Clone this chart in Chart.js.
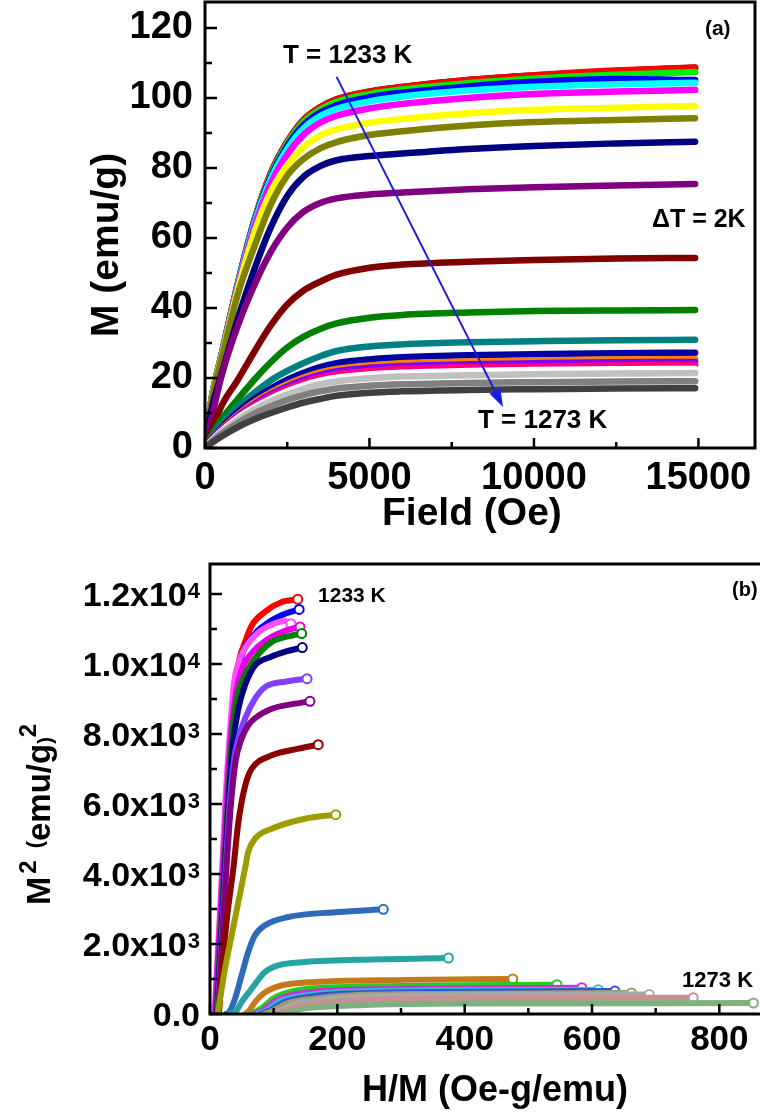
<!DOCTYPE html>
<html>
<head>
<meta charset="utf-8">
<script src="https://cdn.jsdelivr.net/npm/chart.js@4.4.0/dist/chart.umd.min.js"></script>
<style>
  html, body { margin: 0; padding: 0; background: #fff; overflow: hidden; width: 760px; height: 1113px; }
  #boxA { position: absolute; left: 0; top: 0; }
  #boxB { position: absolute; left: 0; top: 545px; }
</style>
</head>
<body>
<div id="boxA"><canvas id="chartA" width="760" height="545"></canvas></div>
<div id="boxB"><canvas id="chartB" width="800" height="568"></canvas></div>
<script>
// ---- panel (a): M vs field, 1233 K .. 1273 K, dT = 2 K
const tempsK = [1233, 1235, 1237, 1239, 1241, 1243, 1245, 1247, 1249, 1251, 1253,
                1255, 1257, 1259, 1261, 1263, 1265, 1267, 1269, 1271, 1273];
const fieldOe = [0, 200, 500, 1000, 1500, 2000, 2500, 3000, 3500, 4000, 5000, 6000, 8000, 10000, 12500, 14900];
const magEmuG = [
  [0, 14, 26.5, 47, 65, 78.5, 87.5, 93.8, 97.3, 99.6, 101.8, 103.1, 105.1, 106.4, 107.7, 108.6],
  [0, 14, 26.5, 47, 65, 78.4, 87.4, 93.7, 97.3, 99.5, 101.8, 103.1, 105.1, 106.5, 107.8, 108.7],
  [0, 14, 26.5, 47, 64.8, 78, 87, 93.2, 96.7, 98.9, 101.1, 102.4, 104.2, 105.5, 106.6, 107.4],
  [0, 14, 26.4, 46.8, 64.5, 77.5, 86.3, 92.3, 95.8, 97.9, 100.2, 101.5, 103.3, 104.6, 105.4, 105.1],
  [0, 14, 26.3, 46.5, 64, 76.8, 85.4, 91.3, 94.8, 96.9, 99, 100.4, 102.1, 103.2, 103.9, 104.3],
  [0, 13.8, 26, 46, 63, 75.5, 83.8, 89.5, 92.9, 94.9, 97, 98.3, 100, 101.1, 101.8, 102.3],
  [0, 13.6, 25.7, 45.3, 61.5, 73.2, 80.8, 86, 89.2, 91, 92.9, 94, 95.6, 96.6, 97.2, 97.7],
  [0, 13.4, 25.3, 44, 57.5, 69.5, 77.8, 82.6, 85.6, 87.4, 89.4, 90.5, 92.1, 93.1, 93.7, 94.2],
  [0, 11, 21, 37, 51, 63, 72, 77.5, 80.5, 82.2, 83.4, 84.1, 85.4, 86.3, 87, 87.5],
  [0, 8.5, 20.5, 35, 46.5, 56, 63, 67.5, 70, 71.3, 72.4, 73, 73.9, 74.5, 75, 75.4],
  [0, 5, 12, 19.5, 27.5, 35, 41, 45, 47.5, 49.5, 51.5, 52.4, 53.2, 53.7, 54.1, 54.3],
  [0, 3.5, 8.2, 14, 19.5, 24.5, 28.7, 31.8, 34, 35.6, 37.2, 38, 38.7, 39.1, 39.3, 39.4],
  [0, 3, 6.6, 11.8, 15.8, 19.3, 22, 24.3, 26.2, 27.7, 29, 29.6, 30.2, 30.5, 30.8, 30.9],
  [0, 2.6, 5.8, 10.3, 14, 17, 19.5, 21.5, 23.1, 24.2, 25.3, 25.9, 26.5, 26.8, 27.1, 27.2],
  [0, 2.4, 5.4, 9.6, 13.1, 15.9, 18.2, 20.1, 21.6, 22.6, 23.6, 24.2, 24.7, 25, 25.3, 25.4],
  [0, 2.3, 5.2, 9.3, 12.6, 15.4, 17.6, 19.5, 20.9, 21.9, 22.9, 23.4, 23.9, 24.2, 24.5, 24.6],
  [0, 2.2, 5, 9, 12.2, 14.8, 17, 18.7, 20.1, 21.1, 22, 22.6, 23.1, 23.3, 23.6, 23.7],
  [0, 2.1, 4.8, 8.6, 11.6, 14.1, 16.2, 17.9, 19.2, 20.1, 21, 21.5, 22, 22.3, 22.5, 22.6],
  [0, 2, 4.5, 8.1, 11, 13.4, 15.3, 16.9, 18.2, 19, 19.9, 20.4, 20.8, 21.1, 21.3, 21.4],
  [0, 1.8, 4, 7.2, 9.8, 11.9, 13.7, 15.1, 16.2, 17, 17.8, 18.2, 18.6, 18.8, 19, 19.1],
  [0, 1.4, 3.3, 6, 8.2, 10, 11.6, 13, 14, 14.9, 15.8, 16.2, 16.6, 16.8, 17, 17.1]
];
const colorsA = ['#000000', '#ff0000', '#00ee00', '#0000ff', '#00ffff', '#ff00ff', '#ffff00', '#808000',
                 '#000080', '#800080', '#800000', '#008000', '#008080', '#0000a0', '#ff8000', '#8000ff',
                 '#ff0080', '#ffffff', '#c0c0c0', '#808080', '#404040'];
const ticksA_x = [0, 5000, 10000, 15000];
const ticksA_y = [0, 20, 40, 60, 80, 100, 120];

// ---- panel (b): Arrott plot, M^2 vs H/M
const arrottHM = [
  [8, 17, 25, 32, 40, 47, 55, 65.5, 86.4, 112.6, 137.8],
  [9, 18, 27, 34, 42, 50, 70.7, 97, 120, 140],
  [7, 16, 24, 31, 38, 45, 55, 76, 100, 118, 127],
  [8, 17, 26, 33, 41, 50, 65, 90, 115, 141.4],
  [10, 19, 28, 35, 42, 50, 70.7, 97, 120, 144],
  [11, 20, 29, 36, 44.5, 55, 70.7, 95, 120, 145],
  [12, 21, 31, 38, 44.5, 55, 70.7, 86.4, 120, 152.4],
  [13, 22, 32, 40, 49.7, 60, 70.7, 97, 125, 157],
  [14, 20, 27, 36.6, 44, 49.7, 58, 65.5, 97, 139, 170],
  [12, 23.6, 34, 44.5, 55, 60, 70.7, 97, 149, 197.5],
  [25, 30, 39.3, 49.7, 60, 70.7, 86.4, 123, 201.6, 272.3],
  [30, 40, 49.7, 65.5, 86.4, 107, 149, 254, 374.5],
  [55, 62, 70.7, 85, 97, 115, 149, 306, 475.5],
  [65, 80, 100, 130, 170, 300, 545],
  [70, 85, 105, 140, 180, 320, 584],
  [75, 90, 110, 150, 190, 340, 610],
  [80, 95, 115, 160, 200, 350, 636],
  [85, 100, 120, 170, 210, 360, 662],
  [95, 110, 130, 180, 220, 380, 690],
  [100, 115, 140, 200, 250, 400, 759],
  [110, 125, 150, 220, 280, 450, 853.6]
];
const arrottM2 = [
  [0, 3000, 6000, 8000, 9500, 10200, 10630, 11100, 11490, 11770, 11850],
  [0, 3000, 6000, 8200, 9600, 10250, 10870, 11250, 11450, 11560],
  [0, 3000, 6000, 8000, 9500, 10050, 10450, 10900, 11150, 11230, 11150],
  [0, 3000, 6000, 8000, 9200, 9850, 10300, 10700, 10930, 11060],
  [0, 3000, 6000, 8000, 9000, 9490, 10150, 10630, 10780, 10870],
  [0, 3000, 6000, 7700, 8720, 9390, 9960, 10200, 10360, 10470],
  [0, 3000, 6000, 7300, 7870, 8440, 9010, 9340, 9500, 9580],
  [0, 3000, 5800, 7200, 7870, 8250, 8450, 8720, 8840, 8934],
  [0, 1500, 2800, 4150, 5400, 6060, 6700, 7010, 7390, 7580, 7694],
  [0, 1294, 2249, 3200, 4151, 4629, 5009, 5294, 5580, 5694],
  [0, 50, 437, 1106, 1771, 2249, 2534, 2771, 2914, 2991],
  [0, 60, 343, 723, 1200, 1391, 1486, 1560, 1600],
  [0, 100, 343, 600, 723, 830, 900, 975, 1000],
  [0, 150, 450, 650, 740, 800, 837],
  [0, 130, 400, 580, 660, 720, 751],
  [0, 120, 360, 530, 610, 670, 694],
  [0, 110, 330, 500, 570, 630, 657],
  [0, 100, 300, 450, 520, 575, 600],
  [0, 90, 260, 410, 480, 535, 560],
  [0, 80, 220, 340, 400, 445, 466],
  [0, 60, 160, 240, 280, 300, 314]
];
const colorsB = ['#ff0000', '#0000ff', '#ff4dff', '#e600e6', '#008000', '#000080', '#8040ff', '#800080',
                 '#8b0000', '#9c9c00', '#2e6ab8', '#26a3a3', '#c47a1a', '#22cc22', '#cc33cc', '#33bbdd',
                 '#3355cc', '#a09a70', '#a8a8a8', '#c89090', '#7fb07f'];
const ticksB_x = [0, 200, 400, 600, 800];
const ticksB_y = [0, 2000, 4000, 6000, 8000, 10000, 12000];
const ticksB_yLabel = [['0.0', ''], ['2.0x10', '3'], ['4.0x10', '3'], ['6.0x10', '3'],
                       ['8.0x10', '3'], ['1.0x10', '4'], ['1.2x10', '4']];

const FONT = '"Liberation Sans", Arial, sans-serif';
Chart.defaults.color = '#000';
Chart.defaults.font.family = FONT;

function txt(ctx, s, x, y, size, align) {
  ctx.font = `bold ${size}px ${FONT}`;
  ctx.textAlign = align || 'left';
  ctx.textBaseline = 'alphabetic';
  ctx.fillText(s, x, y);
}

// frame + inward ticks (major and minor)
function frameTicks(xMajor, yMajor, lw) {
  return {
    id: 'frameTicks',
    afterDatasetsDraw(chart) {
      const {ctx, chartArea: a, scales: {x, y}} = chart;
      ctx.save();
      ctx.strokeStyle = '#000';
      ctx.lineWidth = lw;
      ctx.strokeRect(a.left, a.top, a.right - a.left, a.bottom - a.top);
      ctx.lineWidth = 2.5;
      ctx.beginPath();
      for (let i = 0; i * xMajor / 2 <= x.max; i++) {
        const px = x.getPixelForValue(i * xMajor / 2);
        const len = i % 2 === 0 ? 10 : 6;
        ctx.moveTo(px, a.bottom); ctx.lineTo(px, a.bottom - len);
      }
      for (let i = 0; i * yMajor / 2 <= y.max; i++) {
        const py = y.getPixelForValue(i * yMajor / 2);
        const len = i % 2 === 0 ? 12 : 7;
        ctx.moveTo(a.left, py); ctx.lineTo(a.left + len, py);
      }
      ctx.stroke();
      ctx.restore();
    }
  };
}

function arrow(ctx, x1, y1, x2, y2) {
  const ang = Math.atan2(y2 - y1, x2 - x1);
  const c = Math.cos(ang), s = Math.sin(ang);
  ctx.strokeStyle = '#1a1ae6';
  ctx.fillStyle = '#1a1ae6';
  ctx.lineWidth = 2;
  ctx.beginPath(); ctx.moveTo(x1, y1); ctx.lineTo(x2 - 12 * c, y2 - 12 * s); ctx.stroke();
  ctx.beginPath();
  ctx.moveTo(x2, y2);
  ctx.lineTo(x2 - 18 * c + 6 * s, y2 - 18 * s - 6 * c);
  ctx.lineTo(x2 - 18 * c - 6 * s, y2 - 18 * s + 6 * c);
  ctx.closePath(); ctx.fill();
}

const notesA = {
  id: 'notesA',
  afterDatasetsDraw(chart) {
    const {ctx, scales: {x, y}} = chart;
    ctx.save();
    arrow(ctx, x.getPixelForValue(4000), y.getPixelForValue(106), x.getPixelForValue(9060), y.getPixelForValue(11.7));
    ctx.fillStyle = '#000';
    txt(ctx, 'T = 1233 K', x.getPixelForValue(2371), y.getPixelForValue(110), 26);
    txt(ctx, 'ΔT = 2K', x.getPixelForValue(13587), y.getPixelForValue(63.1), 25);
    txt(ctx, 'T = 1273 K', x.getPixelForValue(8298), y.getPixelForValue(5.7), 26);
    txt(ctx, '(a)', x.getPixelForValue(15198), y.getPixelForValue(118), 21);
    // axis titles
    txt(ctx, 'Field (Oe)', 382, 525, 39);
    ctx.translate(118, 337);
    ctx.rotate(-Math.PI / 2);
    txt(ctx, 'M (emu/g)', 0, 0, 39);
    ctx.restore();
  }
};

const notesB = {
  id: 'notesB',
  afterDatasetsDraw(chart) {
    const {ctx, chartArea: a, scales: {x, y}} = chart;
    ctx.save();
    ctx.fillStyle = '#000';
    txt(ctx, '1233 K', x.getPixelForValue(169.7), y.getPixelForValue(11771), 21);
    txt(ctx, '1273 K', x.getPixelForValue(741.5), y.getPixelForValue(771), 22);
    txt(ctx, '(b)', x.getPixelForValue(820), y.getPixelForValue(11943), 20);
    // y tick labels with exponents
    ticksB_y.forEach((v, i) => {
      const py = y.getPixelForValue(v);
      const [base, exp] = ticksB_yLabel[i];
      ctx.font = `bold 22px ${FONT}`;
      const ew = exp ? ctx.measureText(exp).width + 1 : 0;
      txt(ctx, base, a.left - 10 - ew, py + 12, 34, 'right');
      if (exp) txt(ctx, exp, a.left - 10 - ew + 1, py + 4, 22);
    });
    // axis titles
    txt(ctx, 'H/M (Oe-g/emu)', 362, 556, 36);
    ctx.translate(50, 360);
    ctx.rotate(-Math.PI / 2);
    let cx = 0;
    const part = (s, size, dy) => {
      txt(ctx, s, cx, dy, size);
      cx += ctx.measureText(s).width;
    };
    part('M', 34, 0);
    cx += 3;
    part('2', 24, -14);
    cx += 12;
    part('(', 22, -8);
    part('emu/g', 33, 0);
    part(')', 20, 2);
    part('2', 24, -14);
    ctx.restore();
  }
};

// keep the plot boxes where the reference has them
function fixX(h) {
  return s => { s.height = h; s.paddingLeft = 0; s.paddingRight = 0; };
}
function fixY(w) {
  return s => { s.width = w; s.paddingTop = 0; s.paddingBottom = 0; };
}

const tickFontA = {family: FONT, size: 38, weight: 'bold'};

new Chart(document.getElementById('chartA'), {
  type: 'line',
  data: {
    datasets: tempsK.map((t, i) => ({
      label: t + ' K',
      data: fieldOe.map((h, j) => ({x: h, y: magEmuG[i][j]})),
      borderColor: colorsA[i],
      backgroundColor: colorsA[i],
      borderWidth: 6.5,
      borderCapStyle: 'round',
      borderJoinStyle: 'round',
      pointRadius: 0,
      cubicInterpolationMode: 'monotone',
      order: tempsK.length - i
    }))
  },
  options: {
    responsive: false,
    animation: false,
    layout: {padding: {left: 0, top: 2, right: 5, bottom: 0}},
    plugins: {legend: {display: false}, tooltip: {enabled: false}},
    scales: {
      x: {
        type: 'linear', min: 0, max: 16720,
        grid: {display: false, drawTicks: false},
        border: {display: false},
        afterFit: fixX(97),
        afterBuildTicks: s => { s.ticks = ticksA_x.map(v => ({value: v})); },
        ticks: {font: tickFontA, padding: 8, maxRotation: 0, autoSkip: false, callback: v => String(v)}
      },
      y: {
        type: 'linear', min: 0, max: 127.4,
        grid: {display: false, drawTicks: false},
        border: {display: false},
        afterFit: fixY(205),
        afterBuildTicks: s => { s.ticks = ticksA_y.map(v => ({value: v})); },
        ticks: {font: tickFontA, padding: 12, autoSkip: false, callback: v => String(v)}
      }
    }
  },
  plugins: [frameTicks(5000, 20, 3), notesA]
});

new Chart(document.getElementById('chartB'), {
  type: 'line',
  data: {
    datasets: tempsK.map((t, i) => ({
      label: t + ' K',
      data: arrottHM[i].map((hm, j) => ({x: hm, y: arrottM2[i][j]})),
      borderColor: colorsB[i],
      backgroundColor: '#ffffff',
      borderWidth: 6,
      borderCapStyle: 'round',
      borderJoinStyle: 'round',
      pointRadius: c => (c.dataIndex === arrottHM[i].length - 1 ? 4.5 : 0),
      pointBorderWidth: 2,
      pointBorderColor: colorsB[i],
      pointBackgroundColor: '#ffffff',
      cubicInterpolationMode: 'monotone',
      order: tempsK.length - i
    }))
  },
  options: {
    responsive: false,
    animation: false,
    layout: {padding: {left: 0, top: 19, right: 17, bottom: 0}},
    plugins: {legend: {display: false}, tooltip: {enabled: false}},
    scales: {
      x: {
        type: 'linear', min: 0, max: 900,
        grid: {display: false, drawTicks: false},
        border: {display: false},
        afterFit: fixX(99),
        afterBuildTicks: s => { s.ticks = ticksB_x.map(v => ({value: v})); },
        ticks: {font: {family: FONT, size: 35, weight: 'bold'}, padding: 5, maxRotation: 0, autoSkip: false}
      },
      y: {
        type: 'linear', min: 0, max: 12857,
        grid: {display: false, drawTicks: false},
        border: {display: false},
        afterFit: fixY(210),
        afterBuildTicks: s => { s.ticks = ticksB_y.map(v => ({value: v})); },
        ticks: {display: false}
      }
    }
  },
  plugins: [frameTicks(200, 2000, 3), notesB]
});
</script>
</body>
</html>
